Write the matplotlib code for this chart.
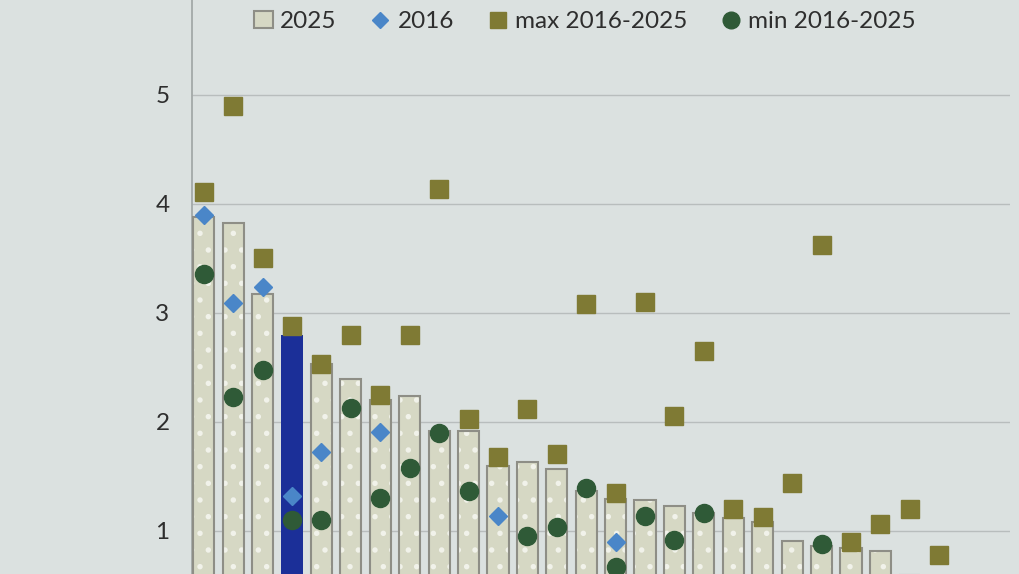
import numpy as np
import matplotlib.pyplot as plt
from matplotlib.lines import Line2D
from matplotlib.patches import Patch

# values (bottom of the chart is cut off, hidden points left as nan)
v2025 = [3.88, 3.82, 3.17, 2.80, 2.53, 2.39, 2.20, 2.24, 1.92, 1.92, 1.60, 1.63, 1.57,
         1.37, 1.29, 1.28, 1.23, 1.16, 1.12, 1.08, 0.91, 0.86, 0.84, 0.82, 0.60, 0.55]
v2016 = [3.90, 3.09, 3.24, 1.32, 1.72, np.nan, 1.91, np.nan, np.nan, np.nan, 1.14, np.nan, np.nan,
         np.nan, 0.90, np.nan, np.nan, np.nan, np.nan, np.nan, np.nan, np.nan, np.nan, np.nan, np.nan, np.nan]
vmax = [4.11, 4.90, 3.50, 2.88, 2.53, 2.80, 2.25, 2.80, 4.14, 2.03, 1.68, 2.12, 1.71,
        3.08, 1.35, 3.10, 2.05, 2.65, 1.20, 1.13, 1.44, 3.62, 0.90, 1.06, 1.20, 0.78]
vmin = [3.36, 2.23, 2.48, 1.10, 1.10, 2.13, 1.30, 1.58, 1.90, 1.37, np.nan, 0.95, 1.04,
        1.39, 0.67, 1.14, 0.92, 1.16, np.nan, np.nan, np.nan, 0.88, np.nan, np.nan, np.nan, np.nan]
highlight = 3  # the dark blue bar
yticks = [1, 2, 3, 4, 5]

bg = '#dbe1e0'
bar_fill = '#d6d8c4'
bar_edge = '#8e8e86'
blue_bar = '#1b2f98'
c2016 = '#4a86c8'
cmax = '#7f7a34'
cmin = '#2f5a37'

plt.rcParams['font.family'] = ['Lato', 'DejaVu Sans']
plt.rcParams['hatch.linewidth'] = 1.5

x = np.arange(len(v2025))
w = 0.72

fig = plt.figure(figsize=(10.2, 5.74), dpi=100, facecolor=bg)
ax = fig.add_axes([0.188, 0.0, 0.802, 1.0])
ax.set_facecolor(bg)

colors = [blue_bar if i == highlight else bar_fill for i in x]
# fill with white dotted pattern, then outline on top
ax.bar(x, v2025, width=w, color=colors, edgecolor='#f1f2ea', hatch='.', linewidth=0, zorder=2)
edges = ['none' if i == highlight else bar_edge for i in x]
ax.bar(x, v2025, width=w, facecolor='none', edgecolor=edges, linewidth=1.5, zorder=3)
# redraw the blue bar solid so the dots don't show
ax.bar(x[highlight], v2025[highlight], width=w, color=blue_bar, linewidth=0, zorder=3)

ax.plot(x, vmax, 's', color=cmax, markersize=13, linestyle='none', zorder=4)
ax.plot(x, vmin, 'o', color=cmin, markersize=13, linestyle='none', zorder=4)
ax.plot(x, v2016, 'D', color=c2016, markersize=9, linestyle='none', zorder=5)

ax.set_xlim(-0.41, 27.4)
ax.set_ylim(0.605, 5.87)
ax.set_yticks(yticks)
ax.set_yticklabels([str(t) for t in yticks], fontsize=17.5, color='#2e2e2e')
ax.tick_params(axis='y', length=0, pad=16)
ax.set_xticks([])
ax.grid(axis='y', color='#b8bdbd', linewidth=1.0, zorder=0)
for s in ['top', 'right', 'bottom']:
    ax.spines[s].set_visible(False)
ax.spines['left'].set_color('#a3a9a8')
ax.spines['left'].set_linewidth(1.3)

handles = [
    Patch(facecolor=bar_fill, edgecolor=bar_edge, linewidth=1.5),
    Line2D([], [], marker='D', color=c2016, linestyle='none', markersize=8),
    Line2D([], [], marker='s', color=cmax, linestyle='none', markersize=12),
    Line2D([], [], marker='o', color=cmin, linestyle='none', markersize=12),
]
labels = ['2025', '2016', 'max 2016-2025', 'min 2016-2025']
fig.legend(handles, labels, loc='center', bbox_to_anchor=(0.573, 0.962), ncol=4,
           frameon=False, fontsize=17.5, handlelength=0.8, handletextpad=0.3,
           columnspacing=1.4, labelcolor='#2e2e2e')

plt.savefig('out.png', dpi=100, facecolor=bg)
